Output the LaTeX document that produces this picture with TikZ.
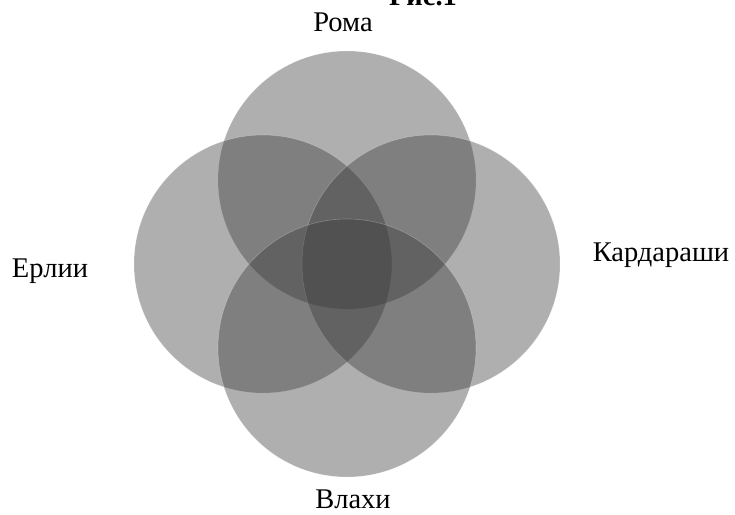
\documentclass[tikz,border=0pt]{standalone}
\usepackage{fontspec}
\setmainfont{Liberation Serif}
\definecolor{venngray}{RGB}{55,55,55}
\begin{document}
\begin{tikzpicture}[x=1pt,y=1pt,
  venn/.style={circle, minimum size=258pt, inner sep=0pt, fill=venngray, fill opacity=0.4, draw=white, draw opacity=0.25, line width=0.6pt},
  lbl/.style={anchor=base, font=\fontsize{28.5}{30}\selectfont, inner sep=0pt},
  ttl/.style={anchor=base, font=\fontsize{28.5}{30}\selectfont\bfseries, inner sep=0pt}]
\useasboundingbox (0,0) rectangle (735,514);
\node[venn] (roma) at (347,334) {};
\node[venn] (erlii) at (263,250) {};
\node[venn] (kard) at (431,250) {};
\node[venn] (vlahi) at (347,166) {};
\node[lbl] (lroma) at (343,482) {Рома};
\node[lbl] (lerlii) at (50,236) {Ерлии};
\node[lbl] (lkard) at (661,252) {Кардараши};
\node[lbl] (lvlahi) at (353,6) {Влахи};
\node[ttl] (title) at (423,508) {Рис.1};
\end{tikzpicture}
\end{document}
